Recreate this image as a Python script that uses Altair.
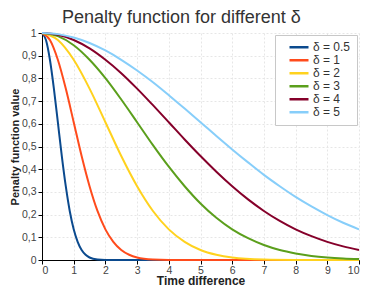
import altair as alt
import pandas as pd

labels = ["δ = 0.5", "δ = 1", "δ = 2", "δ = 3", "δ = 4", "δ = 5"]
colors = ["#0b4a8e", "#ff4b1c", "#ffd21e", "#5b9f1c", "#85002a", "#87cefa"]

t_05 = [0, 0.125, 0.25, 0.375, 0.5, 0.625, 0.75, 0.875, 1.0, 1.125, 1.25, 1.375, 1.5, 1.75, 2, 3, 10]
v_05 = [1, 0.969, 0.882, 0.755, 0.607, 0.458, 0.325, 0.216, 0.135, 0.080, 0.044, 0.023, 0.011, 0.0022, 0.0003, 0, 0]

t_1 = [0, 0.25, 0.5, 0.75, 1, 1.25, 1.5, 1.75, 2, 2.25, 2.5, 2.75, 3, 3.5, 4, 5, 10]
v_1 = [1, 0.969, 0.882, 0.755, 0.607, 0.458, 0.325, 0.216, 0.135, 0.080, 0.044, 0.023, 0.011, 0.0022, 0.0003, 0, 0]

t_2 = [0, 0.5, 1, 1.5, 2, 2.5, 3, 3.5, 4, 4.5, 5, 5.5, 6, 7, 8, 9, 10]
v_2 = [1, 0.969, 0.882, 0.755, 0.607, 0.458, 0.325, 0.216, 0.135, 0.080, 0.044, 0.023, 0.011, 0.0022, 0.0003, 0, 0]

t_wide = [0, 0.5, 1, 1.5, 2, 2.5, 3, 3.5, 4, 4.5, 5, 5.5, 6, 6.5, 7, 7.5, 8, 8.5, 9, 9.5, 10]
v_3 = [1, 0.986, 0.946, 0.882, 0.801, 0.707, 0.607, 0.506, 0.411, 0.325, 0.249, 0.186, 0.135,
       0.096, 0.066, 0.044, 0.029, 0.018, 0.011, 0.0066, 0.0039]
v_4 = [1, 0.992, 0.969, 0.932, 0.882, 0.823, 0.755, 0.682, 0.607, 0.531, 0.458, 0.389, 0.325,
       0.267, 0.216, 0.172, 0.135, 0.105, 0.080, 0.060, 0.044]
v_5 = [1, 0.995, 0.980, 0.956, 0.923, 0.882, 0.835, 0.783, 0.726, 0.667, 0.607, 0.546, 0.487,
       0.430, 0.375, 0.325, 0.278, 0.236, 0.198, 0.164, 0.135]

series = [(t_05, v_05), (t_1, v_1), (t_2, v_2), (t_wide, v_3), (t_wide, v_4), (t_wide, v_5)]
rows = []
for lab, (ts, vs) in zip(labels, series):
    for t, v in zip(ts, vs):
        rows.append({"t": t, "v": v, "delta": lab})
df = pd.DataFrame(rows)

FONT = "Liberation Sans"

chart = alt.Chart(df).mark_line(strokeWidth=2, interpolate="monotone").encode(
    x=alt.X("t:Q", title="Time difference",
            scale=alt.Scale(domain=[0, 10], nice=False),
            axis=alt.Axis(values=list(range(11)), format="d", titlePadding=0, labelPadding=1)),
    y=alt.Y("v:Q", title="Penalty function value",
            scale=alt.Scale(domain=[0, 1], nice=False),
            axis=alt.Axis(values=[i / 10 for i in range(11)],
                          labelExpr="replace(format(datum.value, '.1~f'), '.', ',')",
                          titlePadding=1, labelPadding=2, titleFontSize=11)),
    color=alt.Color("delta:N", sort=labels,
                    scale=alt.Scale(domain=labels, range=colors),
                    legend=alt.Legend(title=None, orient="top-right", offset=2,
                                      symbolType="stroke", symbolSize=361, symbolStrokeWidth=2.5,
                                      symbolOffset=7,
                                      clipHeight=12.5, rowPadding=0, labelFontSize=12,
                                      labelFont=FONT, labelColor="#333",
                                      padding=6, strokeColor="#c8c8c8", fillColor="white",
                                      labelOffset=3)),
).properties(
    width=317, height=227,
    title=alt.TitleParams("Penalty function for different δ", fontSize=18, font=FONT,
                          fontWeight="normal", color="#333", anchor="start", frame="group",
                          dx=20, offset=1),
    padding={"left": 34, "top": 25, "right": 7, "bottom": 28},
    autosize=alt.AutoSizeParams(type="none"),
).configure_view(stroke=None).configure_axis(
    domainColor="black", tickColor="black", tickSize=4,
    labelFont=FONT, labelFontSize=10.5, labelColor="#444",
    titleFont=FONT, titleFontSize=12, titleFontWeight="bold", titleColor="#222",
    gridColor="#e6e6e6", gridDash=[2, 2], gridWidth=1,
)

chart.save("out.html", embed_options={"renderer": "svg", "actions": False})
